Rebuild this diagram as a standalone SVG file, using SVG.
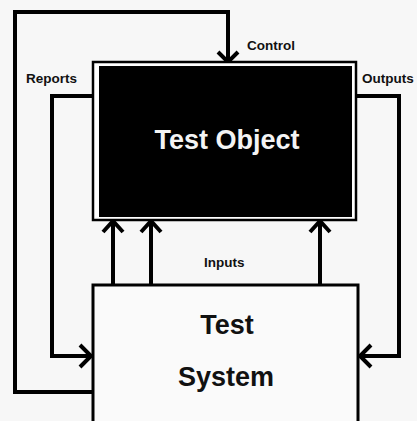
<svg xmlns="http://www.w3.org/2000/svg" width="417" height="421" viewBox="0 0 417 421">
  <style>
    .wire { fill: none; stroke: #000; stroke-width: 4; stroke-linejoin: miter; }
    .head { fill: none; stroke: #000; stroke-width: 4; stroke-linecap: butt; stroke-linejoin: miter; }
    .lbl { font-family: "Liberation Sans", Arial, sans-serif; font-weight: bold; font-size: 13.5px; fill: #111; }
    .title { font-family: "Liberation Sans", Arial, sans-serif; font-weight: bold; font-size: 27px; text-anchor: middle; }
  </style>
  <rect x="0" y="0" width="417" height="421" fill="#f7f7f7"/>

  <!-- connectors -->
  <g id="connectors">
    <!-- control loop: system -> top -> object -->
    <polyline class="wire" points="93,392 15,392 15,12 228,12 228,62"/>
    <polyline class="head" points="218,52 228,62 238,52"/>
    <!-- reports: object -> system -->
    <polyline class="wire" points="100,96 52,96 52,356 91,356"/>
    <polyline class="head" points="80,345 91,356 80,367"/>
    <!-- outputs: object -> system -->
    <polyline class="wire" points="352,96 399,96 399,356 360,356"/>
    <polyline class="head" points="371,345 360,356 371,367"/>
    <!-- inputs: system -> object -->
    <line class="wire" x1="113" y1="285" x2="113" y2="221"/>
    <polyline class="head" points="103,232 113,221 123,232"/>
    <line class="wire" x1="151" y1="285" x2="151" y2="221"/>
    <polyline class="head" points="141,232 151,221 161,232"/>
    <line class="wire" x1="320" y1="285" x2="320" y2="221"/>
    <polyline class="head" points="310,232 320,221 330,232"/>
  </g>

  <!-- connector labels -->
  <text class="lbl" x="247" y="50">Control</text>
  <text class="lbl" x="26" y="83">Reports</text>
  <text class="lbl" x="362" y="83">Outputs</text>
  <text class="lbl" x="204" y="267">Inputs</text>

  <!-- test object -->
  <g id="test-object">
    <rect x="93" y="62" width="263" height="158" fill="#fff" stroke="#000" stroke-width="2.5"/>
    <rect x="99" y="66" width="253" height="151" fill="#000"/>
    <text class="title" x="227" y="149" fill="#f4f4f4">Test Object</text>
  </g>

  <!-- test system -->
  <g id="test-system">
    <rect x="93" y="285" width="265" height="150" fill="#fafafa" stroke="#000" stroke-width="3"/>
    <text class="title" x="227" y="334" fill="#111">Test</text>
    <text class="title" x="226" y="386" fill="#111">System</text>
  </g>
</svg>
